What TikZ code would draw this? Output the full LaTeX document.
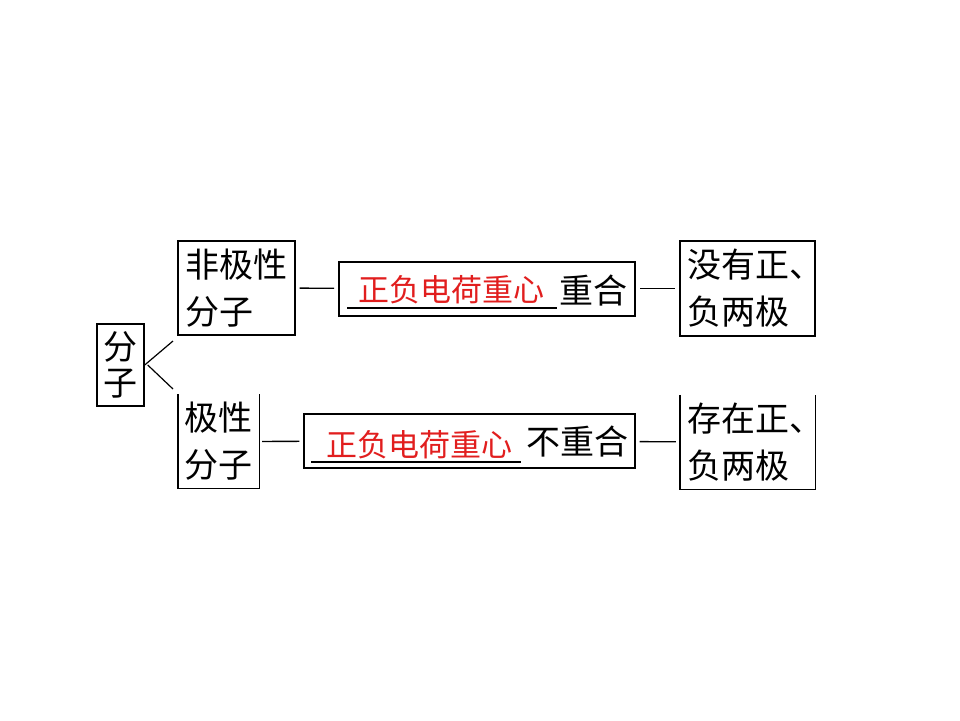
\documentclass[tikz,border=0pt]{standalone}
\usepackage{fontspec}
\setmainfont{Noto Sans CJK SC}
\usepackage{tikz}
\usetikzlibrary{positioning, calc}
\definecolor{keyred}{RGB}{225,30,30}

\begin{document}
\begin{tikzpicture}[x=1pt, y=-1pt,
    every node/.style={font=\fontsize{34}{47}\selectfont, align=left, inner sep=0pt},
    box/.style={draw, line width=1.4pt, minimum width=117pt, minimum height=94pt},
    openbox/.style={minimum height=94pt},
    fillbox/.style={draw, line width=1.2pt, minimum height=54pt},
    key/.style={text=keyred, font=\fontsize{31}{36}\selectfont},
    link/.style={line width=1.3pt, shorten <=4pt, shorten >=4pt},
    blank/.style={line width=1.2pt}
]
\useasboundingbox (0,0) rectangle (960,720);

% --- left: molecule ---
\node[box, minimum width=47pt, minimum height=82pt, font=\fontsize{34}{36}\selectfont]
    (fz) at (120.5,365) {分\\子};
\draw[line width=1.2pt] (173,341) -- (fz.east) ++(3,0) -- (173,389);

% --- top row: non-polar ---
\node[box] (fjx) at (236.5,288) {非极性\\分子};
\node[fillbox, line width=2pt, minimum width=296pt] (m1) at (487,288.5) {};
\node[key] (k1) at (451,290) {正负电荷重心};
\node (c1) at (593.5,290) {重合};
\draw[blank] (347,308) -- (557,308);
\node[box, inner xsep=7pt, minimum width=135pt, minimum height=95pt] (r1) at (747.5,288.5)
    {\makebox[121pt][l]{没有正、}\\负两极};

\draw[link] (fjx) -- (m1);
\draw[link] (m1) -- (r1);

% --- bottom row: polar ---
\node[openbox, minimum width=81pt] (jx) at (218.5,441.5) {极性\\分子};
\draw[line width=1.4pt] (jx.north west) -- (jx.south west) -- (jx.south east) -- (jx.north east);
\node[fillbox, minimum width=331pt] (m2) at (469.5,441) {};
\node[key] (k2) at (419.5,445) {正负电荷重心};
\node (c2) at (577,441) {不重合};
\draw[blank] (311,462) -- (521,462);
\node[openbox, inner xsep=7pt, minimum width=135pt] (r2) at (747.5,442)
    {\makebox[121pt][l]{存在正、}\\负两极};
\draw[line width=1.4pt] (r2.north west) -- (r2.south west) -- (r2.south east) -- (r2.north east);

\draw[link, shorten <=3pt] (jx) -- (m2);
\draw[link] (m2) -- (r2);

\end{tikzpicture}
\end{document}
